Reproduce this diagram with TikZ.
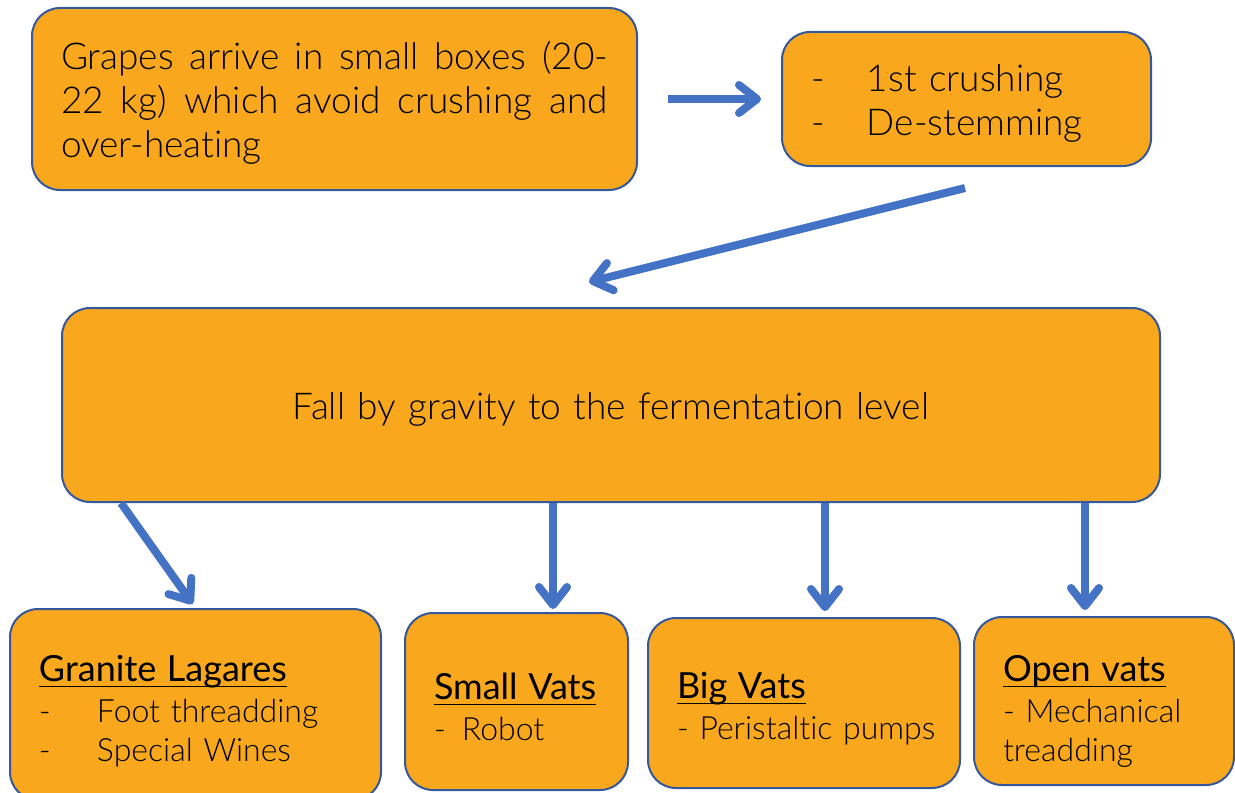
\documentclass[tikz,border=0pt]{standalone}
\usepackage{fontspec}
\IfFontExistsTF{Lato-Light.ttf}{\setmainfont{Lato-Light.ttf}[Ligatures=NoCommon]}{%
  \IfFontExistsTF{Lato Light}{\setmainfont{Lato Light}[Ligatures=NoCommon]}{\setmainfont{Lato}[Ligatures=NoCommon]}}
\newfontfamily\headfont{Lato}[Ligatures=NoCommon]
\usetikzlibrary{arrows.meta}
\definecolor{boxfill}{HTML}{F9A81E}
\definecolor{boxline}{HTML}{34589A}
\definecolor{arrowblue}{HTML}{4472C4}
\newcommand{\ulhead}[1]{\setbox0\hbox{\headfont\fontsize{18}{20}\selectfont #1}\rlap{\rule[-3pt]{\wd0}{0.6pt}}\box0}
\newcommand{\lift}[1]{\rule{0pt}{#1}}

\begin{document}
\begin{tikzpicture}[x=0.5pt,y=-0.5pt]
\tikzset{stage/.style = {shape=rectangle,draw=boxline,line width=1pt,fill=boxfill,rounded corners=14pt,inner xsep=14.5pt,inner ysep=0pt,align=left,font=\fontsize{18.5}{22}\selectfont}}
\tikzset{vat/.style = {stage,font=\fontsize{16}{19.5}\selectfont}}
\tikzset{edge/.style = {draw=arrowblue,line width=4pt,-{Straight Barb[length=9pt,width=14pt,line cap=round,line join=round]}}}
\useasboundingbox (0,0) rectangle (1235,792);

\node[stage,align=justify,text width=273.5pt,minimum height=91pt] (grapes) at (334.5,99) {\lift{17.5pt}Grapes arrive in small boxes (20-\linebreak 22 kg) which avoid crushing and\linebreak over-heating};
\node[stage,text width=155.5pt,minimum height=67pt] (crush) at (966.5,99) {\lift{18pt}\makebox[28pt][l]{-}1st crushing\\\makebox[28pt][l]{-}De-stemming};
\node[stage,align=center,text width=520pt,minimum height=97pt] (fall) at (611,405) {\lift{18pt}Fall by gravity to the fermentation level};

\node[vat,text width=156.5pt,minimum height=95.5pt] (lagares) at (195.5,704.5) {\lift{19.5pt}\ulhead{Granite Lagares}\\[1pt]\makebox[29pt][l]{-}Foot threadding\\\makebox[29pt][l]{-}Special Wines};
\node[vat,text width=82.5pt,minimum height=88.5pt] (smallvats) at (516.5,701.5) {\lift{18.5pt}\ulhead{Small Vats}\\[1pt]-\hspace{8pt}Robot};
\node[vat,text width=127pt,minimum height=85pt] (bigvats) at (804,703) {\lift{18.5pt}\ulhead{Big Vats}\\[1pt]\mbox{- Peristaltic pumps}};
\node[vat,text width=101pt,minimum height=84pt] (openvats) at (1104,701) {\lift{23pt}\ulhead{Open vats}\\[1pt]- Mechanical\\treadding};

\coordinate (crushout) at (965,188);
\coordinate (fallin) at (589,282);

%edges
\draw[edge,shorten <=15pt,shorten >=10pt] (grapes) to (crush);
\draw[edge] (crushout) to (fallin);
\draw[edge,shorten >=2.5pt] ([xshift=30pt]fall.south west) to (lagares.north);
\draw[edge,shorten >=1.5pt] (fall.south -| 553,0) to (smallvats.north -| 553,0);
\draw[edge,shorten >=3pt] (fall.south -| 825,0) to (bigvats.north -| 825,0);
\draw[edge,shorten >=3pt] (fall.south -| 1085,0) to (openvats.north -| 1085,0);
\end{tikzpicture}
\end{document}
